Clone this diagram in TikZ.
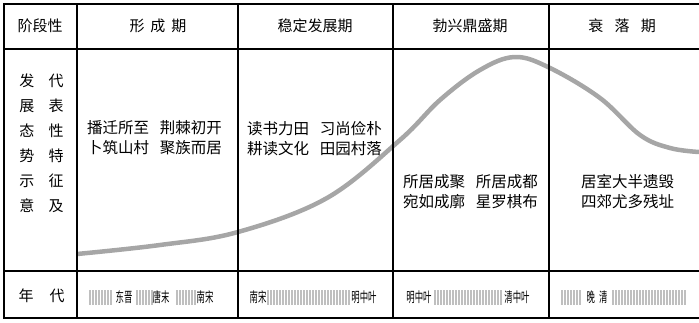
\documentclass[tikz,border=0pt]{standalone}
\usepackage{fontspec}
\setmainfont{Noto Sans CJK SC}
\newfontfamily\narrowcjk[FakeStretch=0.6]{Noto Sans CJK SC}
\begin{document}
\begin{tikzpicture}[x=1pt,y=-1pt,
  grid/.style={line width=1.3pt,black},
  frame/.style={line width=2.4pt,black},
  head/.style={font=\fontsize{15}{17}\selectfont, inner sep=0},
  body/.style={font=\fontsize{15.5}{20}\selectfont, align=center, inner sep=0},
  era/.style={font=\narrowcjk\fontsize{14}{16}\selectfont, inner sep=0},
  trend/.style={line width=4.5pt, draw=black!35},
  bar/.style={draw=black!25, line width=1.1pt}]
\useasboundingbox (0,0) rectangle (699,322);
% trend curve
\draw[trend] plot[smooth, tension=0.6] coordinates {(77,254) (160,245) (238,232) (327,198) (400,140) (440,100) (480,70) (515,57) (550,68) (600,98) (640,135) (670,148) (699,152)};
% table lines
\draw[frame] (699,4) -- (4,4) -- (4,318) -- (699,318);
\draw[grid] (4,49) -- (699,49);
\draw[grid] (4,271) -- (699,271);
\foreach \x in {77,238,393,549} \draw[grid] (\x,4) -- (\x,318);
% header
\node[head] (h0) at (40,26) {阶段性};
\node[head] (h1) at (158,26) {形\hspace{0.4em}成\hspace{0.4em}期};
\node[head] (h2) at (315,26) {稳定发展期};
\node[head] (h3) at (470,26) {勃兴鼎盛期};
\node[head] (h4) at (622,26) {衰\hspace{0.75em}落\hspace{0.75em}期};
% left column
\foreach \a/\b [count=\i from 0] in {发/代,展/表,态/性,势/特,示/征,意/及}{
  \node[head] (la\i) at (27,81+25*\i) {\a};
  \node[head] (lb\i) at (56,81+25*\i) {\b};
}
% body texts
\node[body] (s1) at (154.5,138) {播迁所至\hspace{0.7em}荆棘初开\\卜筑山村\hspace{0.7em}聚族而居};
\node[body] (s2) at (314.5,139) {读书力田\hspace{0.7em}习尚俭朴\\耕读文化\hspace{0.7em}田园村落};
\node[body] (s3) at (470.5,192) {所居成聚\hspace{0.7em}所居成都\\宛如成廓\hspace{0.7em}星罗棋布};
\node[body] (s4) at (627.5,192) {居室大半遗毁\\四郊尤多残址};
% bottom row
\node[head] (n1) at (26,296) {年};
\node[head] (n2) at (57,296) {代};
% time bars
\foreach \s/\e in {90/113,137/152,177/197,268/350,435/502,562/582,613/687}{
  \foreach \x in {\s,...,\e}{
    \pgfmathparse{mod(\x-\s,3)==0}
    \ifnum\pgfmathresult=1 \draw[bar] (\x,290) -- (\x,305); \fi
  }
}
\node[era] (d1) at (124,297) {东晋};
\node[era] (d2) at (161,297) {唐末};
\node[era] (d3) at (205,297) {南宋};
\node[era] (d4) at (258,297) {南宋};
\node[era] (d5) at (364,297) {明中叶};
\node[era] (d6) at (419,297) {明中叶};
\node[era] (d7) at (517,297) {清中叶};
\node[era] (d8) at (597,297) {晚\hspace{0.3em}清};
\end{tikzpicture}
\end{document}
